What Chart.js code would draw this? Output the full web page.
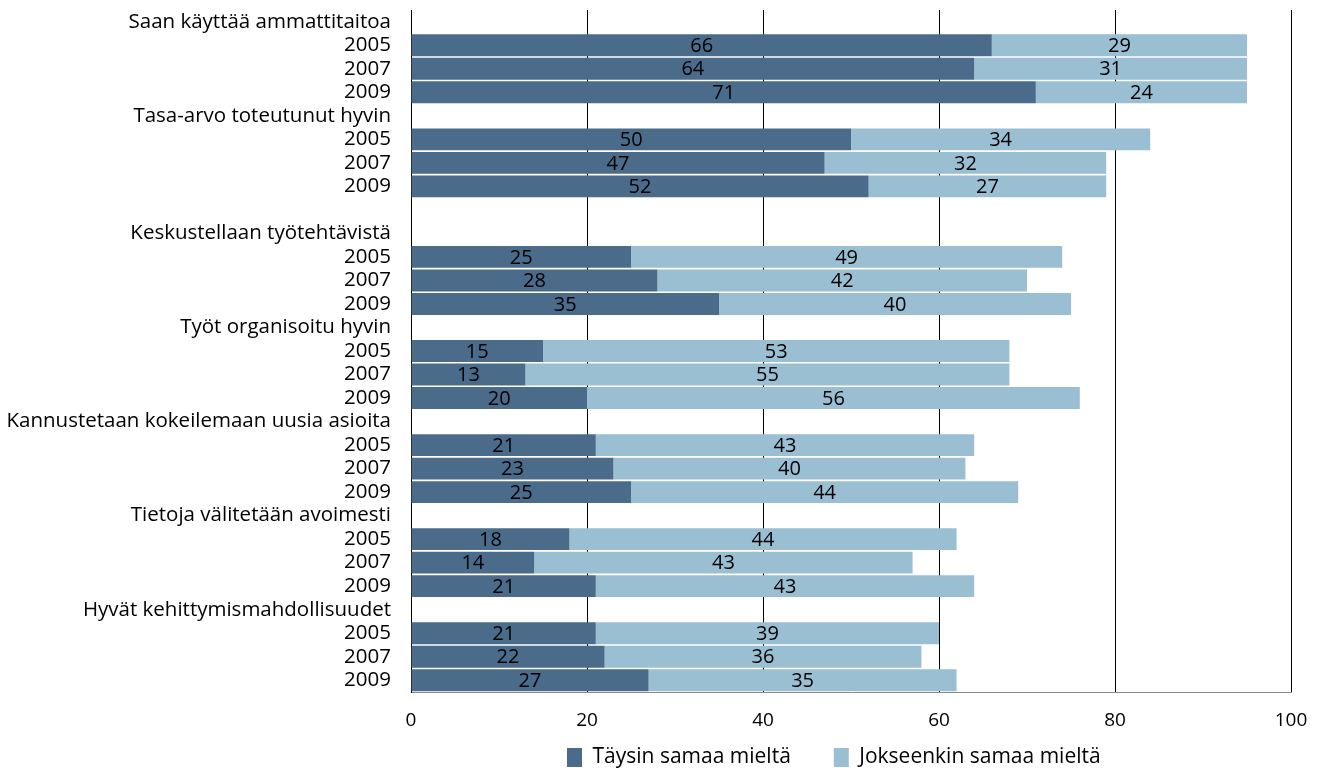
<!DOCTYPE html>
<html>
<head>
<meta charset="utf-8">
<script src="https://cdn.jsdelivr.net/npm/chart.js@4.4.0/dist/chart.umd.min.js"></script>
<style>
  html, body { margin: 0; padding: 0; background: #ffffff; }
  #wrap { width: 1320px; height: 773px; position: relative; }
</style>
</head>
<body>
<div id="wrap"><canvas id="c" width="1320" height="773"></canvas></div>
<script>
// Category rows (headers, years, and one blank spacer row)
const categories = [
  'Saan käyttää ammattitaitoa', '2005', '2007', '2009',
  'Tasa-arvo toteutunut hyvin', '2005', '2007', '2009',
  '',
  'Keskustellaan työtehtävistä', '2005', '2007', '2009',
  'Työt organisoitu hyvin', '2005', '2007', '2009',
  'Kannustetaan kokeilemaan uusia asioita', '2005', '2007', '2009',
  'Tietoja välitetään avoimesti', '2005', '2007', '2009',
  'Hyvät kehittymismahdollisuudet', '2005', '2007', '2009'
];
const seriesNames = ['Täysin samaa mieltä', 'Jokseenkin samaa mieltä'];
const taysin = [
  null, 66, 64, 71,
  null, 50, 47, 52,
  null,
  null, 25, 28, 35,
  null, 15, 13, 20,
  null, 21, 23, 25,
  null, 18, 14, 21,
  null, 21, 22, 27
];
const jokseenkin = [
  null, 29, 31, 24,
  null, 34, 32, 27,
  null,
  null, 49, 42, 40,
  null, 53, 55, 56,
  null, 43, 40, 44,
  null, 44, 43, 43,
  null, 39, 36, 35
];
const xTicks = [0, 20, 40, 60, 80, 100];

const FONT = '"Open Sans", "Noto Sans", sans-serif';
const LEGEND_PAD = 43;

const segmentLabels = {
  id: 'segmentLabels',
  afterDatasetsDraw(chart) {
    const ctx = chart.ctx;
    ctx.save();
    ctx.font = '20px ' + FONT;
    ctx.fillStyle = '#000';
    ctx.textAlign = 'center';
    ctx.textBaseline = 'middle';
    chart.data.datasets.forEach((ds, i) => {
      const meta = chart.getDatasetMeta(i);
      meta.data.forEach((el, j) => {
        const v = ds.data[j];
        if (v === null || v === undefined) return;
        const p = el.getProps(['x', 'y', 'base'], true);
        ctx.fillText(String(v), (p.x + p.base) / 2, p.y + 1);
      });
    });
    ctx.restore();
  }
};

const legendShift = {
  id: 'legendShift',
  afterLayout(chart) {
    const lg = chart.legend;
    if (!lg || !lg.lineWidths) return;
    const x0 = (lg.left + LEGEND_PAD + lg.right - lg.lineWidths[0]) / 2;
    const dx = 567 - x0;
    lg.left += dx; lg.right += dx;
    lg.top = 747 - LEGEND_PAD;
    lg.bottom = chart.height;
    lg.height = lg.bottom - lg.top;
  }
};

new Chart(document.getElementById('c'), {
  type: 'bar',
  data: {
    labels: categories,
    datasets: [
      { label: seriesNames[0], data: taysin, backgroundColor: '#4a6b8a', borderWidth: 0 },
      { label: seriesNames[1], data: jokseenkin, backgroundColor: '#9abfd3', borderWidth: 0 }
    ]
  },
  options: {
    indexAxis: 'y',
    responsive: false,
    animation: false,
    devicePixelRatio: 1,
    layout: { padding: { top: 10, right: 29, left: 0, bottom: 0 } },
    datasets: { bar: { categoryPercentage: 1.0, barPercentage: 0.93 } },
    scales: {
      x: {
        stacked: true,
        min: 0, max: 100,
        afterBuildTicks(scale) { scale.ticks = xTicks.map(v => ({ value: v })); },
        afterFit(scale) { scale.height = 36; scale.paddingLeft = 0; scale.paddingRight = 0; },
        grid: { color: '#000', lineWidth: 1, drawTicks: false },
        border: { display: true, color: '#8a8a8a', width: 1 },
        ticks: { color: '#000', font: { family: FONT, size: 19 }, padding: 17 }
      },
      y: {
        stacked: true,
        afterFit(scale) { scale.width = 411; scale.paddingTop = 0; scale.paddingBottom = 0; },
        grid: { display: false, drawTicks: false },
        border: { display: true, color: '#000', width: 1 },
        ticks: { color: '#000', font: { family: FONT, size: 20.5 }, padding: 20, autoSkip: false }
      }
    },
    plugins: {
      legend: {
        position: 'bottom',
        maxHeight: 45,
        labels: {
          color: '#000',
          font: { family: FONT, size: 21 },
          boxWidth: 15, boxHeight: 19,
          padding: LEGEND_PAD
        }
      },
      tooltip: { enabled: false }
    }
  },
  plugins: [segmentLabels, legendShift]
});
</script>
</body>
</html>
